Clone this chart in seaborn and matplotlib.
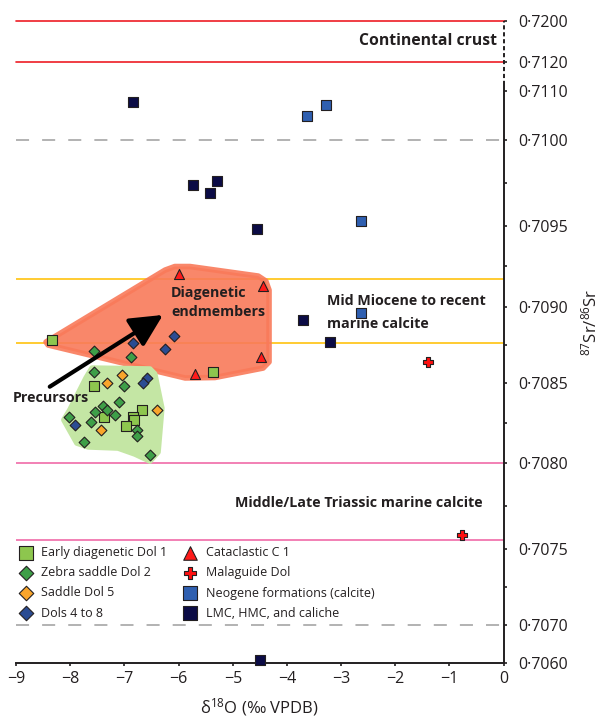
import numpy as np
import pandas as pd
import matplotlib
matplotlib.use("Agg")
import matplotlib.pyplot as plt
import seaborn as sns
from matplotlib.patches import Polygon

# ---------------- data: d18O (per mil VPDB) vs 87Sr/86Sr ----------------
dol1_d18o = [-8.33, -5.36, -7.56, -7.37, -6.67, -6.85, -6.83, -6.98]
dol1_sr = [0.70878, 0.70857, 0.70848, 0.70829, 0.70833, 0.70829, 0.70827, 0.70823]

zebra_d18o = [-7.56, -6.88, -7.56, -7.00, -7.10, -7.39, -7.33, -7.54,
              -7.17, -8.02, -7.62, -7.74, -6.76, -6.76, -6.53]
zebra_sr = [0.70871, 0.70867, 0.70857, 0.70848, 0.70838, 0.70836, 0.70833, 0.70832,
            0.70830, 0.70829, 0.70826, 0.70813, 0.70821, 0.70817, 0.70805]

saddle_d18o = [-7.05, -7.33, -6.40, -7.43]
saddle_sr = [0.70855, 0.70850, 0.70833, 0.70821]

dols48_d18o = [-6.84, -6.09, -6.26, -6.58, -6.65, -7.92]
dols48_sr = [0.70876, 0.70881, 0.70872, 0.70853, 0.70850, 0.70824]

catac_d18o = [-5.99, -4.44, -4.48, -5.70]
catac_sr = [0.70920, 0.70913, 0.70867, 0.70856]

malag_d18o = [-1.39, -0.76]
malag_sr = [0.70864, 0.70758]

neog_d18o = [-3.28, -3.63, -2.63, -2.63]
neog_sr = [0.71071, 0.71049, 0.70953, 0.70896]

lmc_d18o = [-6.84, -5.74, -5.30, -5.42, -4.56, -3.71, -3.20, -4.50]
lmc_sr = [0.71077, 0.70974, 0.70976, 0.70969, 0.70948, 0.70891, 0.70877, 0.70608]

group_names = ["Early diagenetic Dol 1", "Zebra saddle Dol 2", "Saddle Dol 5",
               "Dols 4 to 8", "Cataclastic C 1", "Malaguide Dol",
               "Neogene formations (calcite)", "LMC, HMC, and caliche"]

# envelopes drawn around the diagenetic end-members and the precursors
endmember_d18o = [-8.45, -6.25, -6.07, -5.79, -4.53, -4.39, -4.33, -4.33,
                  -4.44, -5.33, -5.88, -8.41]
endmember_sr = [0.708769, 0.709227, 0.709249, 0.709249, 0.709190, 0.709159,
                0.709103, 0.708638, 0.708598, 0.708536, 0.708533, 0.708749]
precursor_d18o = [-7.60, -6.53, -6.44, -6.31, -6.38, -6.53, -6.81, -7.12,
                  -7.67, -7.88, -8.12, -8.01, -7.71]
precursor_sr = [0.708598, 0.708592, 0.708559, 0.708344, 0.708070, 0.708014,
                0.708058, 0.708095, 0.708102, 0.708126, 0.708270, 0.708332,
                0.708533]

# reference values
crust_sr = [0.7120, 0.7200]
dashed_sr = [0.7100, 0.7070]
miocene_sr = [0.70876, 0.70917]
triassic_sr = [0.70755, 0.7080]

x_ticks = [-9, -8, -7, -6, -5, -4, -3, -2, -1, 0]
y_ticks = [0.7060, 0.7070, 0.7075, 0.7080, 0.7085, 0.7090, 0.7095,
           0.7100, 0.7110, 0.7120, 0.7200]
y_minor = [0.70725, 0.70775, 0.70825, 0.70875, 0.70925, 0.70975]

# broken Sr axis: breakpoints (value -> fraction of axis height)
break_values = np.array(y_ticks)
break_frac = np.array([0.0, 0.0592, 0.1775, 0.3109, 0.4359, 0.5547,
                       0.6804, 0.8143, 0.8913, 0.9362, 1.0])


def sr_forward(v):
    return np.interp(v, break_values, break_frac)


def sr_inverse(f):
    return np.interp(f, break_frac, break_values)


# ---------------- styling ----------------
sns.set_style("white")
plt.rcParams["font.family"] = ["Open Sans", "DejaVu Sans"]
plt.rcParams["mathtext.fontset"] = "custom"
plt.rcParams["mathtext.rm"] = "Open Sans"
plt.rcParams["mathtext.it"] = "Open Sans:italic"
plt.rcParams["mathtext.bf"] = "Open Sans:bold"
plt.rcParams["lines.scale_dashes"] = False

INK = "#231f20"

frames = []
for name, xs, ys in zip(group_names,
                        [dol1_d18o, zebra_d18o, saddle_d18o, dols48_d18o,
                         catac_d18o, malag_d18o, neog_d18o, lmc_d18o],
                        [dol1_sr, zebra_sr, saddle_sr, dols48_sr,
                         catac_sr, malag_sr, neog_sr, lmc_sr]):
    frames.append(pd.DataFrame({"d18O": xs, "Sr": ys, "group": name}))
df = pd.concat(frames, ignore_index=True)

styles = {
    "Early diagenetic Dol 1": dict(marker="s", color="#8dc64e", s=52),
    "Zebra saddle Dol 2": dict(marker="D", color="#3e9f48", s=30),
    "Saddle Dol 5": dict(marker="D", color="#f9a52b", s=30),
    "Dols 4 to 8": dict(marker="D", color="#2b4c93", s=30),
    "Cataclastic C 1": dict(marker="^", color="#ff1a1a", s=52),
    "Malaguide Dol": dict(marker="P", color="#ff1010", s=48),
    "Neogene formations (calcite)": dict(marker="s", color="#2f5fb0", s=52),
    "LMC, HMC, and caliche": dict(marker="s", color="#0b0b45", s=52),
}

fig = plt.figure(figsize=(6.06, 7.23), dpi=100)
ax = fig.add_axes([0.02673, 0.08299, 0.80413, 0.88838])
ax.set_yscale("function", functions=(sr_forward, sr_inverse))
ax.set_xlim(-9, 0)
ax.set_ylim(0.7060, 0.7200)

# reference lines
for v in crust_sr:
    ax.axhline(v, color="#ee1c25", lw=1.2, zorder=1, clip_on=False)
for v in dashed_sr:
    ax.axhline(v, color="#a6a6a6", lw=1.2, ls=(0, (9.4, 9.4)), zorder=1)
for v in miocene_sr:
    ax.axhline(v, color="#ffc20e", lw=1.2, zorder=1)
for v in triassic_sr:
    ax.axhline(v, color="#f06ba8", lw=1.2, zorder=1)

# envelopes
ax.add_patch(Polygon(np.column_stack([endmember_d18o, endmember_sr]),
                     closed=True, facecolor="#f97a5a", edgecolor="#f97a5a",
                     lw=4, joinstyle="round", alpha=0.9, zorder=2))
ax.add_patch(Polygon(np.column_stack([precursor_d18o, precursor_sr]),
                     closed=True, facecolor="#c4e6a4", edgecolor="#c4e6a4",
                     lw=4, joinstyle="round", zorder=2))

# samples
for name in group_names:
    st = styles[name]
    sns.scatterplot(data=df[df["group"] == name], x="d18O", y="Sr",
                    marker=st["marker"], color=st["color"], s=st["s"],
                    edgecolor=INK, linewidth=0.8, label=name, ax=ax,
                    zorder=4, clip_on=False)

# arrow from precursors to diagenetic end-members
ax.annotate("", xy=(-6.29, 0.708946), xytext=(-8.38, 0.708477),
            arrowprops=dict(arrowstyle="-|>,head_length=0.9,head_width=0.45",
                            lw=3, color="black", mutation_scale=22,
                            shrinkA=0, shrinkB=0), zorder=5)

bold = dict(fontsize=10.3, fontweight="bold", color=INK)
ax.text(-0.12, 0.71604, "Continental crust", ha="right", va="center",
        fontsize=11.3, fontweight="bold", color=INK)
ax.text(-3.26, 0.708962, "Mid Miocene to recent\nmarine calcite",
        ha="left", va="center", linespacing=1.75, **bold)
ax.text(-6.14, 0.709025, "Diagenetic\nendmembers", ha="left", va="center",
        linespacing=1.4, zorder=6, **bold)
ax.text(-9.06, 0.708405, "Precursors", ha="left", va="center", **bold)
ax.text(-4.96, 0.707767, "Middle/Late Triassic marine calcite",
        ha="left", va="center", **bold)

# axes
for side in ["left", "top", "right"]:
    ax.spines[side].set_visible(False)
ax.spines["bottom"].set_linewidth(1.4)
ax.spines["bottom"].set_color(INK)
ax.plot([0, 0], [0.7060, 0.71119], color=INK, lw=1.4, clip_on=False,
        zorder=6, solid_capstyle="butt")
ax.plot([0, 0], [0.71119, 0.7200], color=INK, lw=1.4, ls=(0, (3, 2)),
        clip_on=False, zorder=6)

ax.set_xticks(x_ticks)
ax.set_xticklabels([("\u2212" + str(abs(t))) if t < 0 else str(t) for t in x_ticks])
ax.yaxis.tick_right()
ax.set_yticks(y_ticks)
ax.set_yticklabels([f"{v:.4f}".replace(".", "\u00b7") for v in y_ticks])
ax.set_yticks(y_minor, minor=True)
ax.tick_params(axis="x", direction="out", length=2.5, width=1.2, colors=INK,
               labelsize=11.5, pad=3, bottom=True)
ax.tick_params(axis="y", which="both", direction="out", length=2.5, width=1.2,
               colors=INK, labelsize=11.5, pad=8, right=True, left=False)

ax.set_ylabel("")
ax.set_xlabel("δ$^{18}$O (‰ VPDB)", fontsize=12, color=INK)
ax.xaxis.set_label_coords(0.5, -0.069)
ax.xaxis.label.set_va("center")
fig.text(590 / 606, 1 - 322 / 723, r"$\mathregular{^{87}Sr/^{86}Sr}$",
         fontsize=12, color=INK, rotation=90, ha="center", va="center")

# legend in two columns
handles, labels = ax.get_legend_handles_labels()
leg_kw = dict(frameon=False, fontsize=9, markerscale=1.35, handlelength=1.0,
              handletextpad=0.75, labelspacing=0.58, borderpad=0,
              borderaxespad=0, loc="upper left", bbox_transform=fig.transFigure)
leg1 = ax.legend(handles[:4], labels[:4], bbox_to_anchor=(19.5 / 606, 1 - 546 / 723),
                 **leg_kw)
for t in leg1.get_texts():
    t.set_color(INK)
ax.add_artist(leg1)
leg2 = ax.legend(handles[4:], labels[4:], bbox_to_anchor=(184 / 606, 1 - 546 / 723),
                 **leg_kw)
for t in leg2.get_texts():
    t.set_color(INK)

fig.savefig("out.png", dpi=100)
